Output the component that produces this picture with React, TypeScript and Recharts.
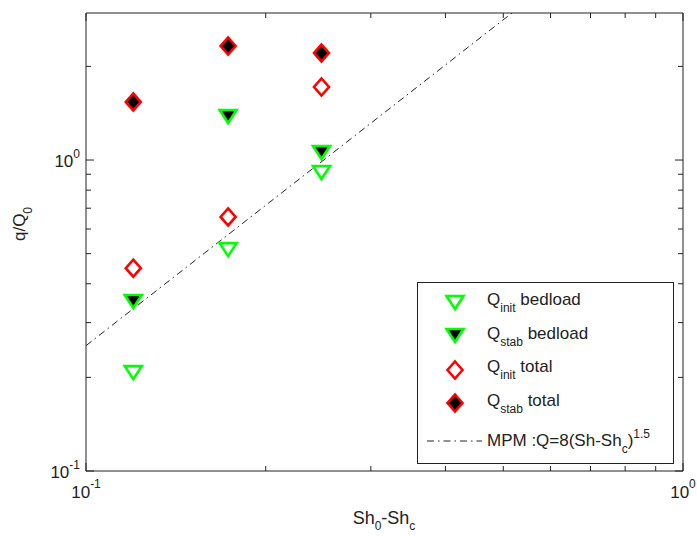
import { ScatterChart, Scatter, XAxis, YAxis, Legend } from 'recharts'

// Sh0 - Shc for the three runs
const shExcess = [0.12, 0.173, 0.248]
// q/Q0 per series
const qInitBedload = [0.208, 0.517, 0.915]
const qStabBedload = [0.352, 1.385, 1.061]
const qInitTotal = [0.449, 0.656, 1.717]
const qStabTotal = [1.537, 2.326, 2.208]
// MPM: Q = 8(Sh-Shc)^1.5, end points of the straight log-log line
const mpmSh = [0.1, 0.517]
const mpmQ = [0.253, 2.97]

const xTicks = [0.1, 0.2, 0.3, 0.4, 0.5, 0.6, 0.7, 0.8, 0.9, 1]
const yTicks = [0.1, 0.2, 0.3, 0.4, 0.5, 0.6, 0.7, 0.8, 0.9, 1, 2]
const decades = [0.1, 1]
const decadeExp = ['-1', '0']

const legendSubs = ['init', 'stab', 'init', 'stab']
const legendNames = ['bedload', 'bedload', 'total', 'total']

const FONT = '"Liberation Sans", Arial, Helvetica, sans-serif'
const INK = '#222'
const GREEN = '#00ff00'
const RED = '#ff0000'

const toPoints = (ys: number[]) => shExcess.map((x, i) => ({ x, y: ys[i] }))
const mpm = mpmSh.map((x, i) => ({ x, y: mpmQ[i] }))

const exp = (v: number) => decadeExp[decades.indexOf(v)]

const triangle = (cx: number, cy: number, fill: string) => (
  <polygon
    points={`${cx - 8.5},${cy - 6} ${cx + 8.5},${cy - 6} ${cx},${cy + 7}`}
    fill={fill}
    stroke={GREEN}
    strokeWidth={2.6}
  />
)

const diamond = (cx: number, cy: number, fill: string) => (
  <polygon
    points={`${cx},${cy - 8.5} ${cx + 7.5},${cy} ${cx},${cy + 8.5} ${cx - 7.5},${cy}`}
    fill={fill}
    stroke={RED}
    strokeWidth={2.6}
  />
)

const BottomTick = ({ x, y, payload }: any) => {
  const major = decades.includes(payload.value)
  return (
    <g>
      <line x1={x} y1={y} x2={x} y2={y - (major ? 8 : 5)} stroke={INK} />
      {major && (
        <text x={x} y={y + 27} textAnchor="middle" fontFamily={FONT} fontSize={17} fill={INK}>
          10<tspan dy={-10} fontSize={12}>{exp(payload.value)}</tspan>
        </text>
      )}
    </g>
  )
}

const TopTick = ({ x, y, payload }: any) => {
  const major = decades.includes(payload.value)
  return <line x1={x} y1={y} x2={x} y2={y + (major ? 8 : 5)} stroke={INK} />
}

const LeftTick = ({ x, y, payload }: any) => {
  const major = decades.includes(payload.value)
  return (
    <g>
      <line x1={x} y1={y} x2={x + (major ? 8 : 5)} y2={y} stroke={INK} />
      {major && (
        <text x={x - 6} y={y + 7} textAnchor="end" fontFamily={FONT} fontSize={17} fill={INK}>
          10<tspan dy={-9} fontSize={12}>{exp(payload.value)}</tspan>
        </text>
      )}
    </g>
  )
}

const RightTick = ({ x, y, payload }: any) => {
  const major = decades.includes(payload.value)
  return <line x1={x} y1={y} x2={x - (major ? 8 : 5)} y2={y} stroke={INK} />
}

const LegendBox = () => (
  <svg width={257} height={182} style={{ display: 'block' }}>
    <rect x={0.5} y={0.5} width={256} height={181} fill="#fff" stroke={INK} />
    {triangle(38, 20, '#fff')}
    {triangle(38, 53, '#000')}
    {diamond(38, 88, '#fff')}
    {diamond(38, 121, '#000')}
    <line x1={10} y1={159} x2={65} y2={159} stroke={INK} strokeDasharray="7 4 1.5 4" />
    {legendSubs.map((sub, i) => (
      <text key={i} x={70} y={23 + i * 33.5} fontFamily={FONT} fontSize={17} fill={INK}>
        Q<tspan dy={7} fontSize={12}>{sub}</tspan>
        <tspan dy={-7}>{'\u00a0' + legendNames[i]}</tspan>
      </text>
    ))}
    <text x={70} y={164} fontFamily={FONT} fontSize={17} fill={INK}>
      MPM :Q=8(Sh-Sh<tspan dy={7} fontSize={12}>c</tspan>
      <tspan dy={-7}>)</tspan>
      <tspan dy={-8} fontSize={12}>1.5</tspan>
    </text>
  </svg>
)

export default function App() {
  return (
    <div style={{ position: 'absolute', left: 0, top: 0, background: '#fff' }}>
      <ScatterChart width={697} height={536} margin={{ top: 0, right: 0, bottom: 0, left: 0 }}>
        <XAxis
          dataKey="x"
          type="number"
          scale="log"
          domain={[0.1, 1]}
          allowDataOverflow
          ticks={xTicks}
          interval={0}
          height={65}
          tickSize={0}
          tickMargin={0}
          tick={BottomTick}
          axisLine={{ stroke: INK }}
        />
        <XAxis
          xAxisId="top"
          dataKey="x"
          type="number"
          scale="log"
          orientation="top"
          domain={[0.1, 1]}
          allowDataOverflow
          ticks={xTicks}
          interval={0}
          height={13}
          tickSize={0}
          tickMargin={0}
          tick={TopTick}
          axisLine={{ stroke: INK }}
        />
        <YAxis
          dataKey="y"
          type="number"
          scale="log"
          domain={[0.1, 2.97]}
          allowDataOverflow
          ticks={yTicks}
          interval={0}
          width={86}
          tickSize={0}
          tickMargin={0}
          tick={LeftTick}
          axisLine={{ stroke: INK }}
          label={
            <text x={25} y={242} transform="rotate(-90, 25, 242)" textAnchor="middle" fontFamily={FONT} fontSize={17} fill={INK}>
              q/Q<tspan dy={7} fontSize={12}>0</tspan>
            </text>
          }
        />
        <YAxis
          yAxisId="right"
          dataKey="y"
          type="number"
          scale="log"
          orientation="right"
          domain={[0.1, 2.97]}
          allowDataOverflow
          ticks={yTicks}
          interval={0}
          width={14}
          tickSize={0}
          tickMargin={0}
          tick={RightTick}
          axisLine={{ stroke: INK }}
        />
        <Scatter
          data={mpm}
          line={{ stroke: INK, strokeWidth: 1, strokeDasharray: '7 4 1.5 4' }}
          shape={() => <g />}
          isAnimationActive={false}
        />
        <Scatter data={toPoints(qInitBedload)} shape={(p: any) => triangle(p.cx, p.cy, '#fff')} isAnimationActive={false} />
        <Scatter data={toPoints(qStabBedload)} shape={(p: any) => triangle(p.cx, p.cy, '#000')} isAnimationActive={false} />
        <Scatter data={toPoints(qInitTotal)} shape={(p: any) => diamond(p.cx, p.cy, '#fff')} isAnimationActive={false} />
        <Scatter data={toPoints(qStabTotal)} shape={(p: any) => diamond(p.cx, p.cy, '#000')} isAnimationActive={false} />
        <Legend
          layout="vertical"
          align="center"
          verticalAlign="middle"
          content={LegendBox}
          wrapperStyle={{ left: 417, top: 282, width: 257, height: 182 }}
        />
      </ScatterChart>
      <svg width={697} height={536} style={{ position: 'absolute', left: 0, top: 0, pointerEvents: 'none' }}>
        <text x={384} y={524} textAnchor="middle" fontFamily={FONT} fontSize={18} fill={INK}>
          Sh<tspan dy={6} fontSize={12}>0</tspan>
          <tspan dy={-6}>-Sh</tspan>
          <tspan dy={6} fontSize={12}>c</tspan>
        </text>
      </svg>
    </div>
  )
}
